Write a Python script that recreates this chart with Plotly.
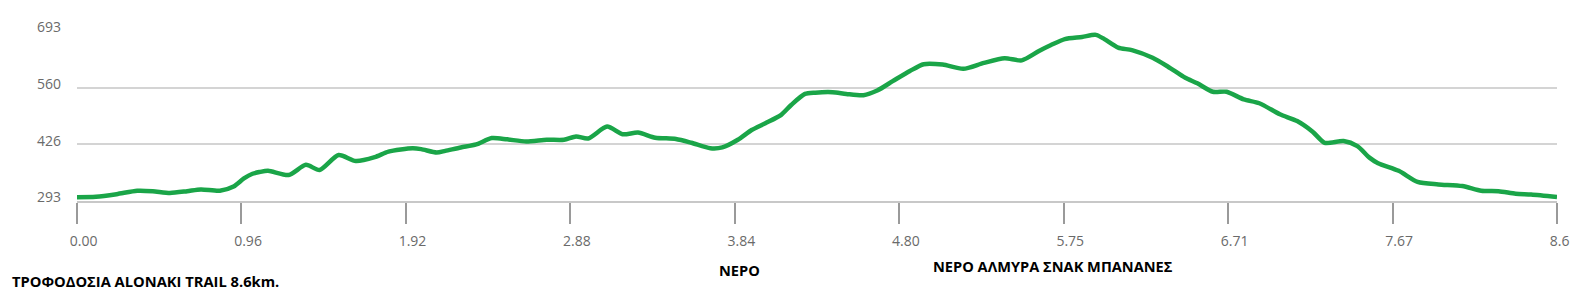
import plotly.graph_objects as go

# Elevation profile (distance km, elevation m)
distance_km = [0.00, 0.11, 0.23, 0.35, 0.44, 0.54, 0.64, 0.72, 0.83, 0.91,
               0.97, 1.02, 1.06, 1.11, 1.23, 1.33, 1.41, 1.52, 1.62, 1.73,
               1.81, 1.95, 2.00, 2.09, 2.14, 2.23, 2.32, 2.41, 2.50, 2.61,
               2.73, 2.83, 2.90, 2.97, 3.08, 3.17, 3.26, 3.36, 3.48, 3.57,
               3.68, 3.75, 3.84, 3.92, 4.00, 4.09, 4.15, 4.23, 4.29, 4.39,
               4.47, 4.57, 4.65, 4.74, 4.84, 4.92, 5.03, 5.15, 5.27, 5.39,
               5.49, 5.59, 5.66, 5.74, 5.84, 5.92, 5.97, 6.05, 6.13, 6.25,
               6.34, 6.44, 6.51, 6.60, 6.68, 6.78, 6.87, 6.99, 7.09, 7.18,
               7.25, 7.36, 7.44, 7.51, 7.56, 7.68, 7.79, 7.91, 8.05, 8.16,
               8.26, 8.36, 8.45, 8.60]
elevation_m = [302, 303, 309, 317, 316, 312, 316, 320, 317, 327,
               346, 357, 361, 364, 354, 378, 366, 401, 387, 396,
               409, 417, 415, 407, 411, 419, 426, 441, 438, 433,
               437, 437, 445, 440, 468, 450, 454, 442, 439, 430,
               417, 419, 437, 460, 476, 495, 519, 545, 548, 549,
               545, 542, 553, 575, 599, 615, 614, 604, 618, 629,
               624, 646, 660, 674, 679, 684, 674, 654, 648, 630,
               609, 583, 570, 550, 550, 532, 523, 497, 481, 456,
               430, 434, 422, 395, 382, 364, 338, 332, 328, 317,
               316, 310, 308, 302]

x_tick_labels = ["0.00", "0.96", "1.92", "2.88", "3.84", "4.80",
                 "5.75", "6.71", "7.67", "8.6"]
y_tick_values = [293, 426, 560, 693]
y_tick_labels = ["293", "426", "560", "693"]

course_title = "ΤΡΟΦΟΔΟΣΙΑ ALONAKI TRAIL 8.6km."
aid_station_km = [3.85, 5.67]
aid_station_text = ["ΝΕΡΟ", "ΝΕΡΟ ΑΛΜΥΡΑ ΣΝΑΚ ΜΠΑΝΑΝΕΣ"]

total_km = 8.6
x_tick_pos = [i * total_km / (len(x_tick_labels) - 1) for i in range(len(x_tick_labels))]

fig = go.Figure()
fig.add_trace(go.Scatter(
    x=distance_km, y=elevation_m, mode="lines",
    line=dict(color="#1aa548", width=4.5, shape="spline", smoothing=0.7),
    hoverinfo="skip", showlegend=False,
))

tick_font = dict(family="Open Sans, sans-serif", size=14, color="#6a6a6a")

fig.update_layout(
    width=1587, height=293,
    margin=dict(l=77, r=30, t=31, b=92),
    paper_bgcolor="white", plot_bgcolor="white",
    xaxis=dict(
        range=[0, total_km], tickmode="array",
        tickvals=x_tick_pos, ticktext=x_tick_labels,
        showgrid=False, zeroline=False,
        showline=True, linecolor="#c8c8c8", linewidth=2,
        ticks="outside", ticklen=21, tickwidth=1.5, tickcolor="#9a9a9a",
        tickfont=tick_font,
        ticklabelposition="outside right", ticklabelshift=-9,
        ticklabelstandoff=26,
    ),
    yaxis=dict(
        range=[292.9, 693.1], tickmode="array",
        tickvals=y_tick_values, ticktext=y_tick_labels,
        showgrid=True, gridcolor="#d4d4d4", gridwidth=2,
        zeroline=False, showline=False, ticks="",
        tickfont=tick_font,
        ticklabelposition="outside top", ticklabelstandoff=15,
        ticklabelshift=6,
    ),
)

fig.add_annotation(
    text="<b>" + course_title + "</b>", xref="paper", yref="paper",
    x=-67 / 1480, y=-0.47, xanchor="left", yanchor="middle",
    showarrow=False,
    font=dict(family="Open Sans, sans-serif", size=14.7, color="black"),
)
for km, txt, yy in zip(aid_station_km, aid_station_text, [-0.405, -0.385]):
    fig.add_annotation(
        text="<b>" + txt + "</b>", xref="x", yref="paper",
        x=km, y=yy, xanchor="center", yanchor="middle",
        showarrow=False,
        font=dict(family="Open Sans, sans-serif", size=14.6, color="black"),
    )

fig.write_html("out.html")
